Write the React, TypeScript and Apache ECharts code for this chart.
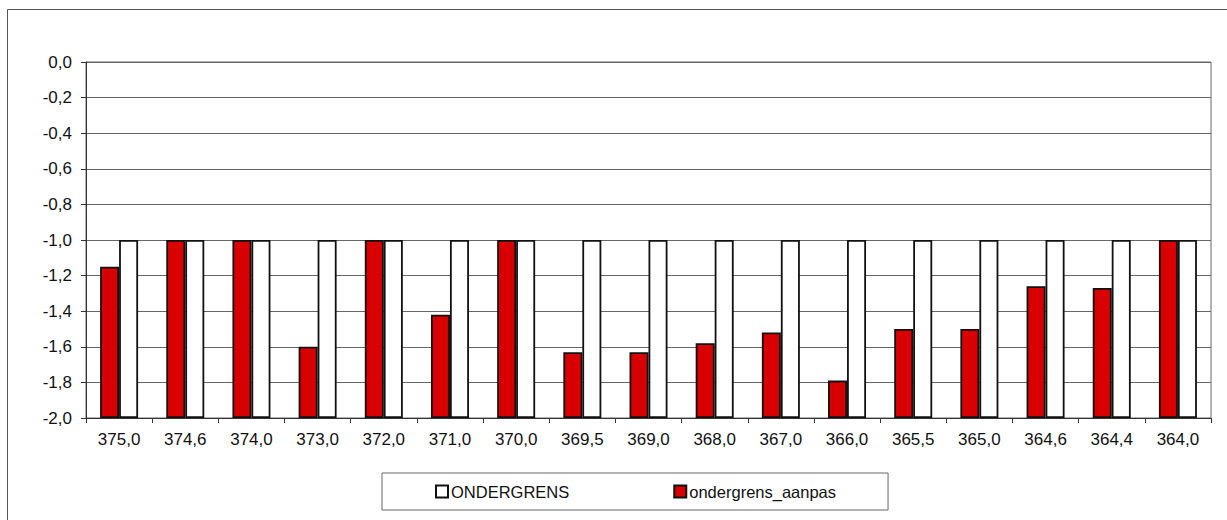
import React, { useEffect, useRef } from "react";
import * as echarts from "echarts";

const categories = [
  "375,0", "374,6", "374,0", "373,0", "372,0", "371,0", "370,0", "369,5", "369,0",
  "368,0", "367,0", "366,0", "365,5", "365,0", "364,6", "364,4", "364,0",
];
const aanpasValues = [
  -1.15, -1.0, -1.0, -1.6, -1.0, -1.42, -1.0, -1.63, -1.63,
  -1.58, -1.52, -1.79, -1.5, -1.5, -1.26, -1.27, -1.0,
];
const ondergrensValues = [
  -1.0, -1.0, -1.0, -1.0, -1.0, -1.0, -1.0, -1.0, -1.0,
  -1.0, -1.0, -1.0, -1.0, -1.0, -1.0, -1.0, -1.0,
];
const axisMin = -2.0;
const axisMax = 0.0;
const axisStep = 0.2;

const FONT = "'Liberation Sans', Arial, sans-serif";

export default function App() {
  const ref = useRef<HTMLDivElement>(null);
  useEffect(() => {
    document.body.style.margin = "0";
    const chart = echarts.init(ref.current!, null, { renderer: "svg" });
    // bars grow from the axis minimum (-2,0) as in the original; shift by -min
    const shift = (arr: number[]) => arr.map((v) => +(v - axisMin).toFixed(4));
    chart.setOption({
      animation: false,
      backgroundColor: "#ffffff",
      textStyle: { fontFamily: FONT },
      graphic: [
        {
          type: "rect",
          shape: { x: 7.5, y: 9.5, width: 1240, height: 540 },
          style: { fill: "none", stroke: "#555", lineWidth: 1 },
          silent: true,
        },
      ],
      grid: { left: 86, top: 62, right: 16, bottom: 102, show: true, borderColor: "#666", borderWidth: 1 },
      legend: {
        left: 382,
        top: 473,
        data: ["ONDERGRENS", "ondergrens_aanpas"],
        icon: "rect",
        itemWidth: 12,
        itemHeight: 12,
        itemGap: 104,
        padding: [10, 52, 10, 53],
        borderColor: "#666",
        borderWidth: 1,
        textStyle: { fontFamily: FONT, fontSize: 16.5, color: "#111", padding: [0, 0, 0, -2] },
      },
      xAxis: {
        type: "category",
        data: categories,
        axisLine: { lineStyle: { color: "#333", width: 1 } },
        axisTick: { show: true, length: 5, lineStyle: { color: "#333" } },
        axisLabel: { fontFamily: FONT, fontSize: 17, color: "#111", margin: 13 },
        splitLine: { show: false },
      },
      yAxis: {
        type: "value",
        min: 0,
        max: axisMax - axisMin,
        interval: axisStep,
        axisLine: { show: true, lineStyle: { color: "#333", width: 1 } },
        axisTick: { show: true, length: 5, lineStyle: { color: "#333" } },
        axisLabel: {
          fontFamily: FONT,
          fontSize: 17,
          color: "#111",
          margin: 14,
          formatter: (val: number) => {
            const v = Math.round((val + axisMin) * 10) / 10;
            return (v === 0 ? 0 : v).toFixed(1).replace(".", ",");
          },
        },
        splitLine: { show: true, lineStyle: { color: "#666", width: 1 } },
      },
      series: [
        {
          name: "ondergrens_aanpas",
          type: "bar",
          data: shift(aanpasValues),
          barWidth: 19,
          barGap: "0%",
          itemStyle: { color: "#d80000", borderColor: "#111", borderWidth: 1.8 },
        },
        {
          name: "ONDERGRENS",
          type: "bar",
          data: shift(ondergrensValues),
          barWidth: 19,
          barGap: "0%",
          itemStyle: { color: "#ffffff", borderColor: "#111", borderWidth: 1.8 },
        },
      ],
    });
    return () => chart.dispose();
  }, []);
  return <div ref={ref} style={{ width: 1227, height: 520 }} />;
}
